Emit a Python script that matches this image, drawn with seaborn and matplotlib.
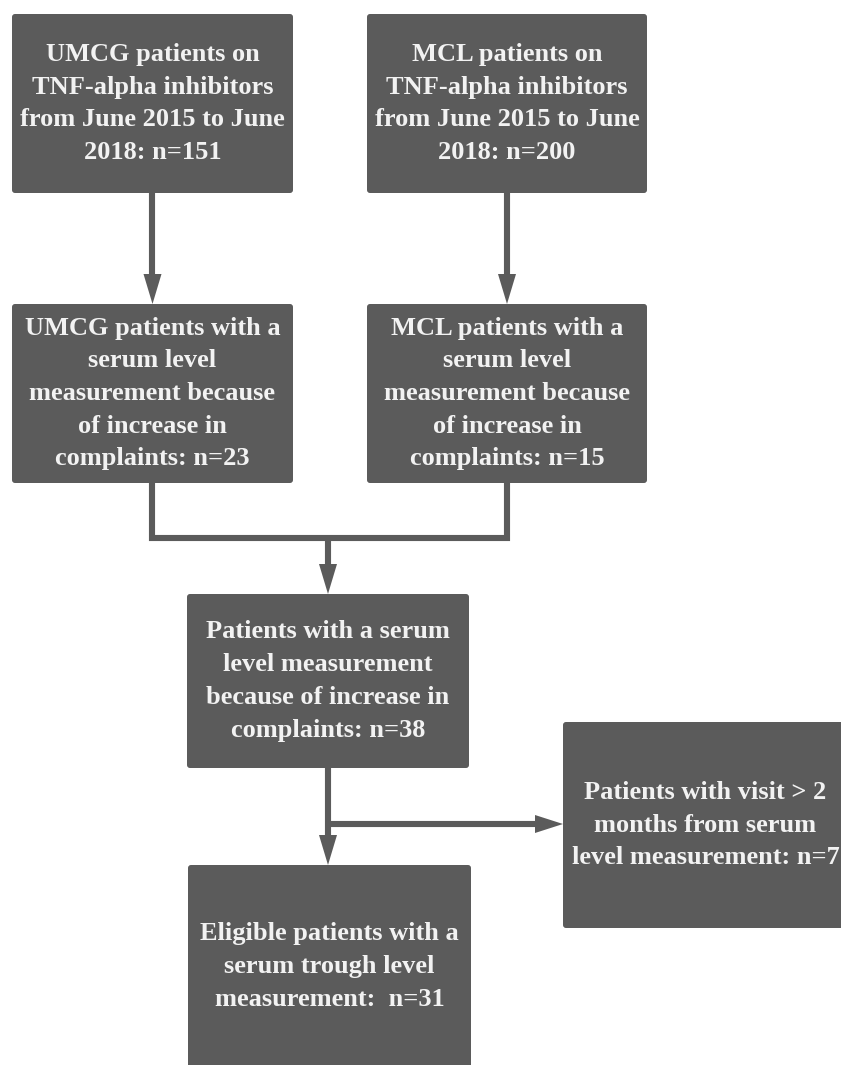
import matplotlib
matplotlib.use("Agg")
import matplotlib.pyplot as plt
from matplotlib.patches import FancyBboxPatch, Polygon
import seaborn as sns

sns.set_theme(style="white")
plt.rcParams['font.family'] = ['Liberation Serif', 'DejaVu Serif']

# flowchart content
box_texts = [
    "UMCG patients on\nTNF-alpha inhibitors\nfrom June 2015 to June\n2018: n=151",
    "MCL patients on\nTNF-alpha inhibitors\nfrom June 2015 to June\n2018: n=200",
    "UMCG patients with a\nserum level\nmeasurement because\nof increase in\ncomplaints: n=23",
    "MCL patients with a\nserum level\nmeasurement because\nof increase in\ncomplaints: n=15",
    "Patients with a serum\nlevel measurement\nbecause of increase in\ncomplaints: n=38",
    "Patients with visit > 2\nmonths from serum\nlevel measurement: n=7",
    "Eligible patients with a\nserum trough level\nmeasurement:  n=31",
]
counts = [151, 200, 23, 15, 38, 7, 31]

# layout in pixel units (x0, y0, x1, y1)
boxes = [
    (12, 14, 293, 193),
    (367, 14, 647, 193),
    (12, 304, 293, 483),
    (367, 304, 647, 483),
    (187, 594, 469, 768),
    (563, 722, 848, 928),
    (188, 865, 471, 1068),
]

fill = "#5b5b5b"
text_col = "#f2f2f2"
W, H = 841, 1065

fig = plt.figure(figsize=(W / 100, H / 100), dpi=100)
ax = fig.add_axes([0, 0, 1, 1])
ax.set_xlim(0, W)
ax.set_ylim(H, 0)
ax.axis("off")

for (x0, y0, x1, y1), txt in zip(boxes, box_texts):
    ax.add_patch(FancyBboxPatch((x0 + 3, y0 + 3), x1 - x0 - 6, y1 - y0 - 6,
                                boxstyle="round,pad=3", fc=fill, ec="none"))
    ax.text((x0 + x1) / 2, (y0 + y1) / 2, txt, ha="center", va="center",
            color=text_col, fontsize=19, fontweight="bold", linespacing=1.54)

lw = 4.4


def seg(xs, ys):
    ax.plot(xs, ys, color=fill, lw=lw, solid_capstyle="butt",
            solid_joinstyle="miter")


def head_down(x, y):
    ax.add_patch(Polygon([(x - 9, y - 30), (x + 9, y - 30), (x, y)],
                         closed=True, fc=fill, ec="none"))


def head_right(x, y):
    ax.add_patch(Polygon([(x - 28, y - 9), (x - 28, y + 9), (x, y)],
                         closed=True, fc=fill, ec="none"))


# top row to second row
for b_top, b_bot in [(boxes[0], boxes[2]), (boxes[1], boxes[3])]:
    cx = (b_top[0] + b_top[2]) / 2
    seg([cx, cx], [b_top[3], b_bot[1] - 25])
    head_down(cx, b_bot[1])

# merge
xl = (boxes[2][0] + boxes[2][2]) / 2
xr = (boxes[3][0] + boxes[3][2]) / 2
ym = 538
seg([xl, xl, xr, xr], [boxes[2][3], ym, ym, boxes[3][3]])
xc = (boxes[4][0] + boxes[4][2]) / 2
seg([xc, xc], [ym, boxes[4][1] - 25])
head_down(xc, boxes[4][1])

# to eligible and excluded
seg([xc, xc], [boxes[4][3], boxes[6][1] - 25])
head_down(xc, boxes[6][1])
yb = 824
seg([xc, boxes[5][0] - 25], [yb, yb])
head_right(boxes[5][0], yb)

fig.savefig("out.png", dpi=100, facecolor="white")
